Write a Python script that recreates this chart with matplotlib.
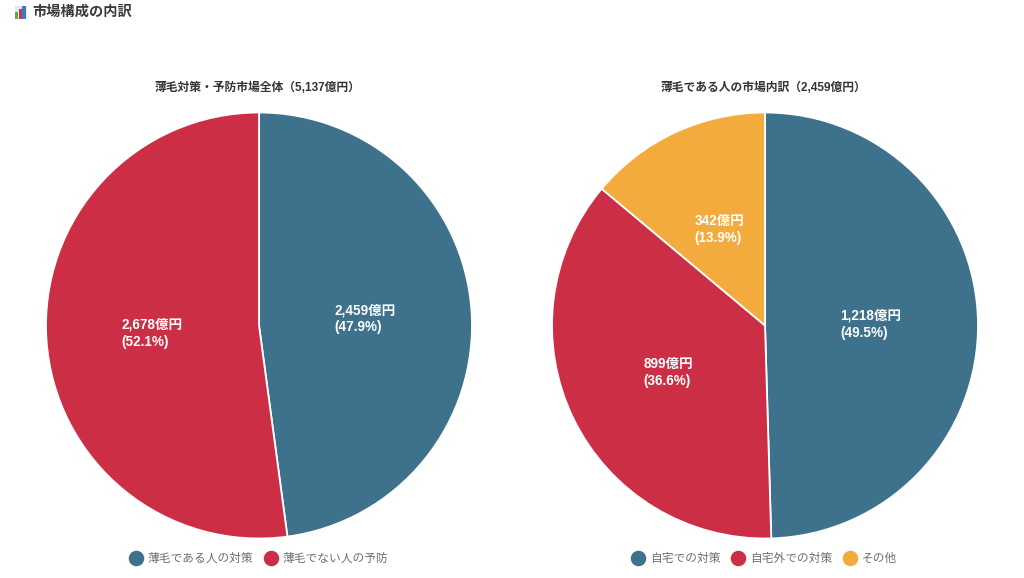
import math
import matplotlib
matplotlib.use('Agg')
import matplotlib.pyplot as plt
from matplotlib.lines import Line2D
from matplotlib.patches import Rectangle

plt.rcParams['font.family'] = ['Liberation Sans', 'Noto Sans CJK JP', 'DejaVu Sans']

main_title = '市場構成の内訳'
left_title = '薄毛対策・予防市場全体（5,137億円）'
left_categories = ['薄毛である人の対策', '薄毛でない人の予防']
left_values = [2459, 2678]
left_percents = [47.9, 52.1]
right_title = '薄毛である人の市場内訳（2,459億円）'
right_categories = ['自宅での対策', '自宅外での対策', 'その他']
right_values = [1218, 899, 342]
right_percents = [49.5, 36.6, 13.9]
colors = ['#3E728C', '#CC2F45', '#F2AB3C']

W, H = 1024, 578
PX = 72 / 100
fig = plt.figure(figsize=(W / 100, H / 100), dpi=100, facecolor='white')


def draw_pie(cx, cy, r, title, cats, vals, pcts, legend_x):
    ax = fig.add_axes([(cx - r) / W, 1 - (cy + r) / H, 2 * r / W, 2 * r / H])
    ax.pie(vals, colors=colors[:len(vals)], startangle=90, counterclock=False,
           radius=1, wedgeprops={'edgecolor': 'white', 'linewidth': 1.3})
    ax.set_xlim(-1, 1)
    ax.set_ylim(-1, 1)
    ax.set_aspect('equal')
    cum = 0
    total = sum(vals)
    for v, p in zip(vals, pcts):
        mid = (cum + v / 2) / total * 2 * math.pi
        cum += v
        ax.text(0.5 * math.sin(mid) - 0.003, 0.5 * math.cos(mid) - 0.002, f'{v:,}億円\n({p}%)',
                color='white', fontsize=13.5 * PX, fontweight='bold', ha='center', va='center',
                multialignment='left', linespacing=1.3)
    fig.text(cx / W - 1.5 / W, 1 - 87.5 / H, title, fontsize=11.8 * PX, fontweight='bold', color='#333333',
             ha='center', va='center')
    handles = [Line2D([], [], marker='o', linestyle='none', markersize=15.5 * PX,
                      markerfacecolor=c, markeredgecolor='none') for c in colors[:len(vals)]]
    fig.legend(handles, cats, loc='center', bbox_to_anchor=(legend_x / W, 1 - 559 / H), ncol=len(vals),
               frameon=False, fontsize=11.7 * PX, labelcolor='#6E6E6E', columnspacing=0.95,
               handletextpad=0.38, handlelength=1.2, borderpad=0, borderaxespad=0)


draw_pie(259, 325.5, 213, left_title, left_categories, left_values, left_percents, 258.5)
draw_pie(765, 325.5, 213, right_title, right_categories, right_values, right_percents, 764)

fig.text(32 / W, 1 - 12 / H, main_title, fontsize=14.2 * PX, fontweight='bold', color='#3A3A3A',
         ha='left', va='center')

icon_bars = [(15, 12, 3.4, '#5DA85A'), (18.6, 9, 3.6, '#C93A3A'), (22.4, 6, 3.6, '#3F78C4')]
fig.add_artist(Rectangle((14.5 / W, 1 - 19 / H), 12 / W, 13.5 / H, transform=fig.transFigure,
                         facecolor='#E4E8EC', edgecolor='none'))
for x, top, w, c in icon_bars:
    fig.add_artist(Rectangle((x / W, 1 - 19 / H), w / W, (19 - top) / H, transform=fig.transFigure,
                             facecolor=c, edgecolor='none'))

fig.savefig('out.png', dpi=100)
